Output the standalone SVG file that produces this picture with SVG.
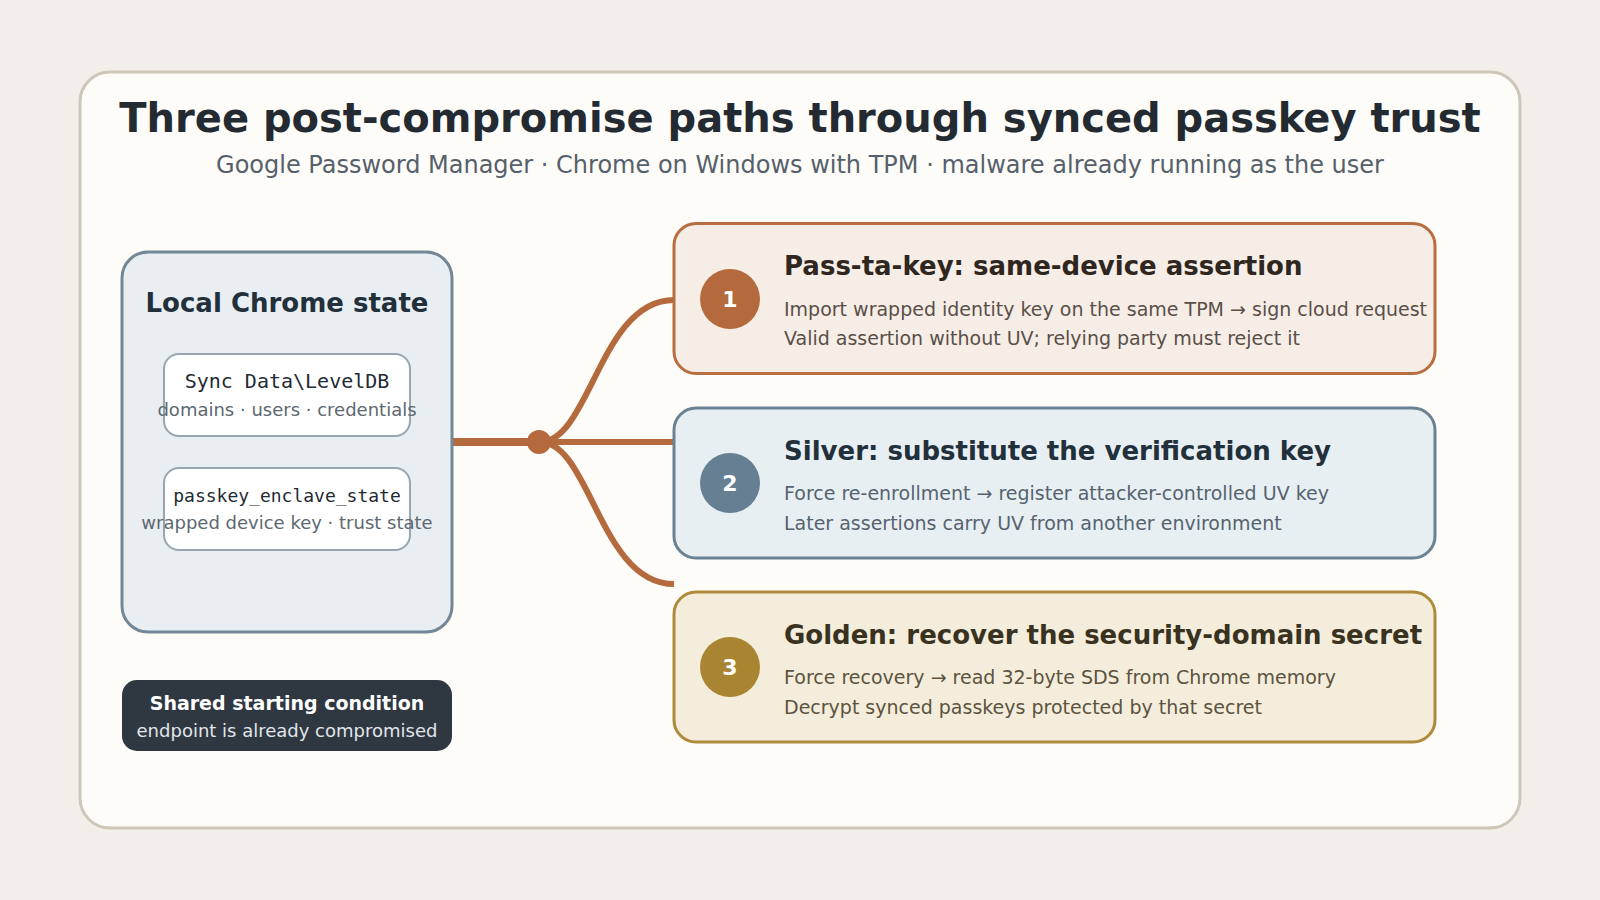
<svg xmlns="http://www.w3.org/2000/svg" width="1600" height="900" viewBox="0 0 1600 900">
<defs>
<style>
.sans{font-family:"DejaVu Sans","Liberation Sans",sans-serif}
.mono{font-family:"DejaVu Sans Mono","Liberation Mono",monospace}
.ttl{font-size:26px;font-weight:bold}
.body{font-size:19px}
.badge-t{font-size:22px;font-weight:bold;fill:#ffffff;text-anchor:middle}
.wire{fill:none;stroke:#b46a3d;stroke-linecap:butt}
</style>
</defs>
<rect x="0" y="0" width="1600" height="900" fill="#f2efea"/>
<rect id="card" x="80" y="72" width="1440" height="756" rx="30" fill="#fdfcf8" stroke="#cdc6b9" stroke-width="3"/>
<g id="header" class="sans">
<text x="800" y="132" text-anchor="middle" font-size="40" font-weight="bold" fill="#232a31">Three post-compromise paths through synced passkey trust</text>
<text x="800" y="173" text-anchor="middle" font-size="24" fill="#56606b">Google Password Manager · Chrome on Windows with TPM · malware already running as the user</text>
</g>
<g id="connectors">
<line class="wire" x1="452" y1="442" x2="540" y2="442" stroke-width="8"/>
<line class="wire" x1="540" y1="442" x2="674" y2="442" stroke-width="6"/>
<path class="wire" d="M540 442 C590 442 600 300 674 300" stroke-width="6"/>
<path class="wire" d="M540 442 C590 442 600 584 674 584" stroke-width="6"/>
<circle cx="539" cy="442" r="12" fill="#b46a3d"/>
</g>
<g id="local-state" class="sans">
<rect x="122" y="252" width="330" height="380" rx="26" fill="#e8eef1" stroke="#738796" stroke-width="3"/>
<text x="287" y="312" text-anchor="middle" font-size="26" font-weight="bold" fill="#22303b">Local Chrome state</text>
</g>
<g id="sync-data">
<rect x="164" y="354" width="246" height="82" rx="15" fill="#ffffff" stroke="#97a5ae" stroke-width="2"/>
<text class="mono" x="287" y="388" text-anchor="middle" font-size="20" fill="#1f2a33">Sync Data\LevelDB</text>
<text class="sans" x="287" y="416" text-anchor="middle" font-size="18" fill="#5d6870">domains · users · credentials</text>
</g>
<g id="enclave-state">
<rect x="164" y="468" width="246" height="82" rx="15" fill="#ffffff" stroke="#97a5ae" stroke-width="2"/>
<text class="mono" x="287" y="502" text-anchor="middle" font-size="18" fill="#1f2a33">passkey_enclave_state</text>
<text class="sans" x="287" y="529" text-anchor="middle" font-size="18" fill="#5d6870">wrapped device key · trust state</text>
</g>
<g id="shared-condition" class="sans">
<rect x="122" y="680" width="330" height="71" rx="15" fill="#2f3741"/>
<text x="287" y="710" text-anchor="middle" font-size="19" font-weight="bold" fill="#ffffff">Shared starting condition</text>
<text x="287" y="737" text-anchor="middle" font-size="18" fill="#e1e6ea">endpoint is already compromised</text>
</g>
<g id="path-1" class="sans">
<rect x="674" y="223.5" width="761" height="150" rx="22" fill="#f6ede7" stroke="#b86e41" stroke-width="3"/>
<circle cx="730" cy="299" r="30" fill="#b46a3d"/>
<text class="badge-t" x="730" y="307">1</text>
<text class="ttl" x="784" y="275" fill="#2f2620">Pass-ta-key: same-device assertion</text>
<text class="body" x="784" y="316" fill="#5a4f48">Import wrapped identity key on the same TPM → sign cloud request</text>
<text class="body" x="784" y="345" fill="#5a4f48">Valid assertion without UV; relying party must reject it</text>
</g>
<g id="path-2" class="sans">
<rect x="674" y="408" width="761" height="150" rx="22" fill="#e8eff3" stroke="#6b8293" stroke-width="3"/>
<circle cx="730" cy="483" r="30" fill="#667f92"/>
<text class="badge-t" x="730" y="491">2</text>
<text class="ttl" x="784" y="459.5" fill="#22303c">Silver: substitute the verification key</text>
<text class="body" x="784" y="499.5" fill="#56636e">Force re-enrollment → register attacker-controlled UV key</text>
<text class="body" x="784" y="529.5" fill="#56636e">Later assertions carry UV from another environment</text>
</g>
<g id="path-3" class="sans">
<rect x="674" y="592" width="761" height="150" rx="22" fill="#f4eddb" stroke="#ae8a3a" stroke-width="3"/>
<circle cx="730" cy="667" r="30" fill="#a98532"/>
<text class="badge-t" x="730" y="675">3</text>
<text class="ttl" x="784" y="643.5" fill="#3a3220">Golden: recover the security-domain secret</text>
<text class="body" x="784" y="683.5" fill="#5c5340">Force recovery → read 32-byte SDS from Chrome memory</text>
<text class="body" x="784" y="713.5" fill="#5c5340">Decrypt synced passkeys protected by that secret</text>
</g>
</svg>
